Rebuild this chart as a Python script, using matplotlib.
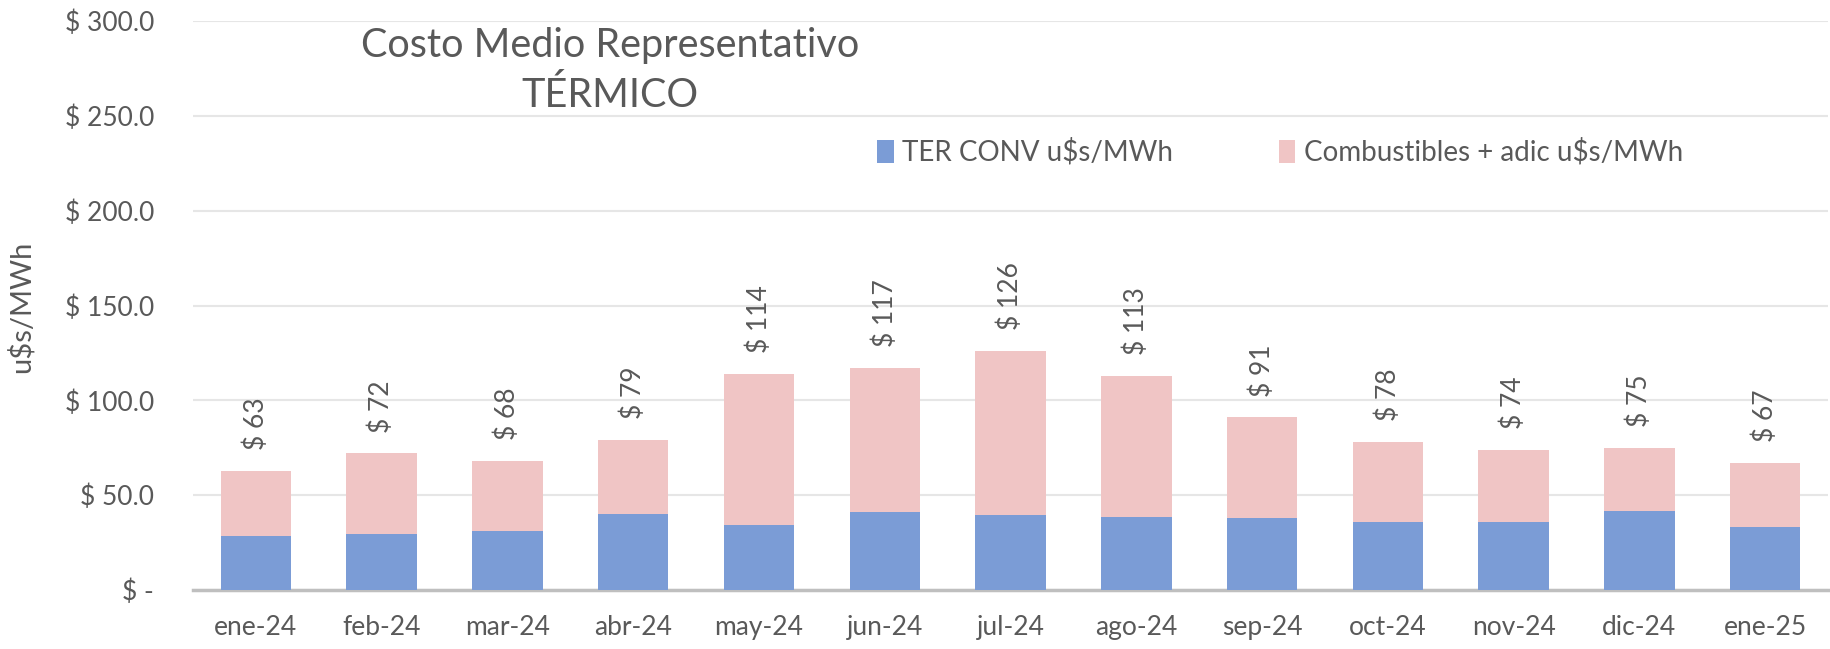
import matplotlib
matplotlib.use("Agg")
import matplotlib.pyplot as plt
import numpy as np

plt.rcParams['font.family'] = ['Lato', 'DejaVu Sans']

months = ['ene-24', 'feb-24', 'mar-24', 'abr-24', 'may-24', 'jun-24', 'jul-24',
          'ago-24', 'sep-24', 'oct-24', 'nov-24', 'dic-24', 'ene-25']
# TER CONV u$s/MWh (bottom segment)
ter_conv = [28.4, 29.7, 31.1, 40.0, 34.5, 41.2, 39.3, 38.5, 37.8, 35.7, 35.7, 41.9, 33.2]
# totals shown in the labels
totals = [63, 72, 68, 79, 114, 117, 126, 113, 91, 78, 74, 75, 67]
combustibles = [t - b for t, b in zip(totals, ter_conv)]

text_col = '#595959'
blue = '#7B9CD6'
pink = '#F0C5C5'

fig = plt.figure(figsize=(18.31, 6.49), dpi=100)
ax = fig.add_axes([0.1054, 0.0909, 0.893, 0.8767])

x = np.arange(len(months))
ax.bar(x, ter_conv, width=0.56, color=blue, label='TER CONV u$s/MWh', zorder=3)
ax.bar(x, combustibles, width=0.56, bottom=ter_conv, color=pink,
       label='Combustibles + adic u$s/MWh', zorder=3)

for i, t in enumerate(totals):
    ax.text(i, t + 11, f"$ {t:.0f}", rotation=90, ha='center', va='bottom',
            fontsize=19, color=text_col)

ax.set_xlim(-0.5, len(months) - 0.5)
ax.set_ylim(0, 300)
ax.set_yticks(np.arange(0, 301, 50))
ax.set_yticklabels(['$ -'] + [f"$ {v:.1f}" for v in np.arange(50, 301, 50)])
ax.set_xticks(x)
ax.set_xticklabels(months)
ax.tick_params(axis='y', length=0, pad=28, labelsize=19, labelcolor=text_col)
ax.tick_params(axis='x', length=0, pad=18, labelsize=19, labelcolor=text_col)
ax.grid(axis='y', color='#E6E6E6', linewidth=1.5, zorder=0)
for s in ['top', 'right', 'left']:
    ax.spines[s].set_visible(False)
ax.spines['bottom'].set_color('#BFBFBF')
ax.spines['bottom'].set_linewidth(2.5)

fig.text(0.0115, 0.527, 'u$s/MWh', rotation=90, ha='center', va='center',
         fontsize=21, color=text_col)
fig.text(0.333, 0.891, 'Costo Medio Representativo\nTÉRMICO', ha='center', va='center',
         fontsize=28.5, color=text_col, linespacing=1.4)

fig.legend(loc='center', bbox_to_anchor=(0.699, 0.766), ncol=2, frameon=False,
           fontsize=20, labelcolor=text_col, handlelength=0.6, handleheight=0.9,
           handletextpad=0.3, columnspacing=3.8)

fig.savefig('out.png', dpi=100)
